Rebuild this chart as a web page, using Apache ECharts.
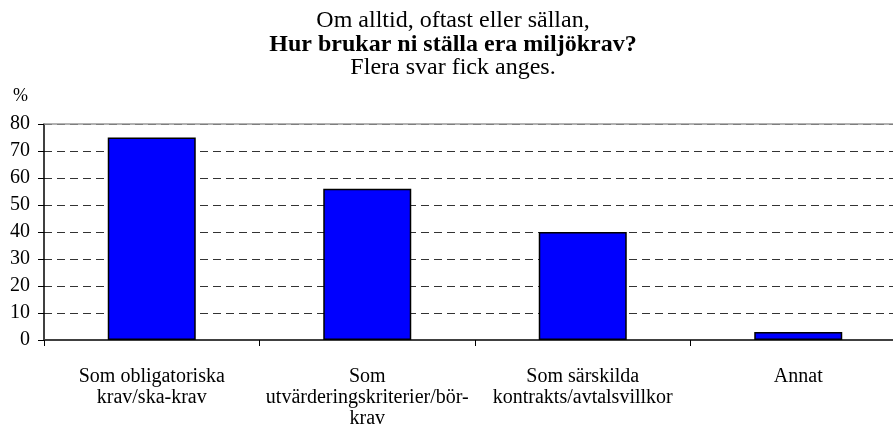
<!DOCTYPE html>
<html>
<head>
<meta charset="utf-8">
<style>
  html, body { margin: 0; padding: 0; background: #fff; overflow: hidden; }
  /* plot area runs past the right edge of the picture, as in the original */
  #chart { width: 906px; height: 430px; }
</style>
</head>
<body>
<div id="chart"></div>
<script src="https://cdn.jsdelivr.net/npm/echarts@6/dist/echarts.min.js"></script>
<script>
    // data
    var categories = ['Som obligatoriska\nkrav/ska-krav', 'Som\nutvärderingskriterier/bör-\nkrav', 'Som särskilda\nkontrakts/avtalsvillkor', 'Annat'];
    var values = [75, 56, 40, 3];
    var titleLines = ['Om alltid, oftast eller sällan,', 'Hur brukar ni ställa era miljökrav?', 'Flera svar fick anges.'];

    var font = '"Liberation Serif", "Times New Roman", serif';
    var myChart = echarts.init(document.getElementById('chart'));

    // padding right 13 keeps titles centred on the visible 893px
    var titlePad = [0, 13, 0, 0];
    var option = {
        animation: false,
        title: [
            { text: titleLines[0], left: 'center', top: 9, padding: titlePad, textStyle: { fontFamily: font, fontSize: 24, fontWeight: 'normal', color: '#000' } },
            { text: titleLines[1], left: 'center', top: 33, padding: titlePad, textStyle: { fontFamily: font, fontSize: 24, fontWeight: 'bold', color: '#000' } },
            { text: titleLines[2], left: 'center', top: 56, padding: titlePad, textStyle: { fontFamily: font, fontSize: 24, fontWeight: 'normal', color: '#000' } }
        ],
        grid: { left: 44, right: 0, top: 124, bottom: 90, containLabel: false },
        xAxis: {
            type: 'category',
            data: categories,
            axisLine: { lineStyle: { color: '#404040', width: 2 } },
            axisTick: { show: true, length: 6, lineStyle: { color: '#000' } },
            axisLabel: { fontFamily: font, fontSize: 20, color: '#000', margin: 26, lineHeight: 21, interval: 0 }
        },
        yAxis: {
            type: 'value',
            min: 0,
            max: 80,
            interval: 10,
            name: '%',
            nameLocation: 'end',
            nameGap: 19,
            nameTextStyle: { fontFamily: font, fontSize: 18, color: '#000', align: 'right', padding: [0, 16, 0, 0] },
            axisLine: { show: true, lineStyle: { color: '#000', width: 1.5 } },
            axisTick: { show: true, length: 6, lineStyle: { color: '#000' } },
            axisLabel: { fontFamily: font, fontSize: 20, color: '#000', margin: 14 },
            splitLine: { show: true, lineStyle: { color: '#333', width: 1, type: [8, 5] } }
        },
        series: [
            {
                type: 'bar',
                data: values,
                barWidth: 88,
                itemStyle: { color: '#0000FF', borderColor: '#000', borderWidth: 1.5 },
                markLine: {
                    silent: true,
                    symbol: 'none',
                    label: { show: false },
                    lineStyle: { type: 'solid', color: '#999', width: 1.5 },
                    data: [{ yAxis: 80 }]
                }
            }
        ]
    };
    myChart.setOption(option);
</script>
</body>
</html>
